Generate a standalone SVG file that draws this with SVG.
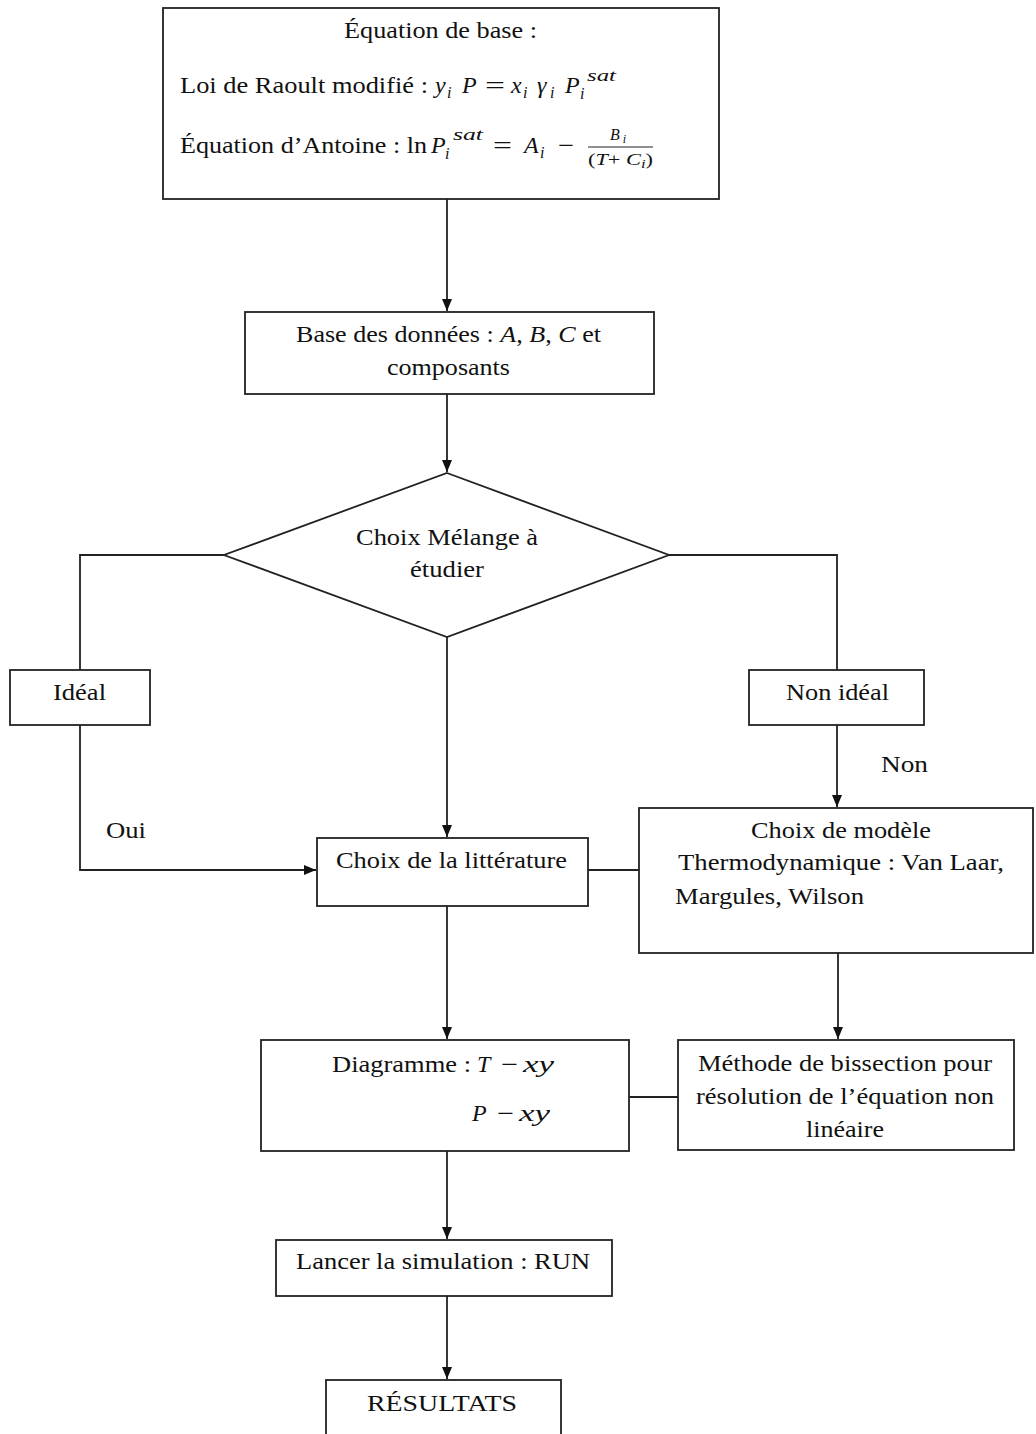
<svg xmlns="http://www.w3.org/2000/svg" width="1036" height="1434" viewBox="0 0 1036 1434">
<defs>
<marker id="ah" viewBox="0 0 12 10" refX="12" refY="5" markerWidth="12" markerHeight="10" markerUnits="userSpaceOnUse" orient="auto">
<path d="M0,0 L12,5 L0,10 Z" fill="#111"/>
</marker>
</defs>
<style>
.box{fill:#fff;stroke:#222;stroke-width:1.8}
.ln{fill:none;stroke:#222;stroke-width:1.8}
text{font-family:"Liberation Serif","Times New Roman",serif;font-size:23px;fill:#111}
.m{font-style:italic;font-size:24px}
.s{font-size:16px;font-style:italic}
.f{font-size:16px}
</style>
<rect width="1036" height="1434" fill="#fff"/>
<g id="connectors">
<path class="ln" d="M447,199 V311" marker-end="url(#ah)"/>
<path class="ln" d="M447,394 V472" marker-end="url(#ah)"/>
<path class="ln" d="M224,555 H80 V670"/>
<path class="ln" d="M80,725 V870 H316" marker-end="url(#ah)"/>
<path class="ln" d="M669,555 H837 V670"/>
<path class="ln" d="M837,725 V807" marker-end="url(#ah)"/>
<path class="ln" d="M447,637 V837" marker-end="url(#ah)"/>
<path class="ln" d="M588,870 H639"/>
<path class="ln" d="M447,906 V1039" marker-end="url(#ah)"/>
<path class="ln" d="M838,953 V1039" marker-end="url(#ah)"/>
<path class="ln" d="M629,1097 H678"/>
<path class="ln" d="M447,1151 V1239" marker-end="url(#ah)"/>
<path class="ln" d="M447,1296 V1379" marker-end="url(#ah)"/>
<text x="106" y="838" textLength="40" lengthAdjust="spacingAndGlyphs">Oui</text>
<text x="881" y="772" textLength="47" lengthAdjust="spacingAndGlyphs">Non</text>
</g>
<g id="n-equation">
<rect class="box" x="163" y="8" width="556" height="191"/>
<text x="344" y="38" textLength="193" lengthAdjust="spacingAndGlyphs">Équation de base :</text>
<text x="180" y="93" textLength="248" lengthAdjust="spacingAndGlyphs">Loi de Raoult modifié :</text>
<text class="m" x="435" y="93">y</text>
<text class="s" x="447" y="98">i</text>
<text class="m" x="462" y="93">P</text>
<text x="485" y="93" textLength="20" lengthAdjust="spacingAndGlyphs">=</text>
<text class="m" x="511" y="93">x</text>
<text class="s" x="523" y="98">i</text>
<text class="m" x="537" y="93">γ</text>
<text class="s" x="550" y="98">i</text>
<text class="m" x="565" y="93">P</text>
<text class="s" x="580" y="99">i</text>
<text class="s" x="587" y="81" textLength="29" lengthAdjust="spacingAndGlyphs">sat</text>
<text x="180" y="153" textLength="247" lengthAdjust="spacingAndGlyphs">Équation d’Antoine : ln</text>
<text class="m" x="431" y="153">P</text>
<text class="s" x="445" y="159">i</text>
<text class="s" x="453" y="140" textLength="30" lengthAdjust="spacingAndGlyphs">sat</text>
<text x="493" y="153" textLength="19" lengthAdjust="spacingAndGlyphs">=</text>
<text class="m" x="524" y="153">A</text>
<text class="s" x="540" y="158">i</text>
<text x="558" y="153" textLength="16" lengthAdjust="spacingAndGlyphs">−</text>
<text class="f" x="610" y="140"><tspan font-style="italic">B</tspan><tspan font-style="italic" font-size="12" dy="3" dx="3">i</tspan></text>
<line class="ln" x1="588" y1="147" x2="653" y2="147" style="stroke-width:1.2"/>
<text class="f" x="588" y="165" textLength="65" lengthAdjust="spacingAndGlyphs">(<tspan font-style="italic">T</tspan>+ <tspan font-style="italic">C</tspan><tspan font-style="italic" font-size="12" dy="3">i</tspan><tspan dy="-3">)</tspan></text>
</g>
<g id="n-base">
<rect class="box" x="245" y="312" width="409" height="82"/>
<text x="296" y="342" textLength="305" lengthAdjust="spacingAndGlyphs">Base des données : <tspan font-style="italic">A</tspan>, <tspan font-style="italic">B</tspan>, <tspan font-style="italic">C</tspan> et</text>
<text x="387" y="375" textLength="123" lengthAdjust="spacingAndGlyphs">composants</text>
</g>
<g id="n-choix-melange">
<polygon class="box" points="447,473 669,555 447,637 224,555"/>
<text x="356" y="545" textLength="182" lengthAdjust="spacingAndGlyphs">Choix Mélange à</text>
<text x="410" y="577" textLength="74" lengthAdjust="spacingAndGlyphs">étudier</text>
</g>
<g id="n-ideal">
<rect class="box" x="10" y="670" width="140" height="55"/>
<text x="53" y="700" textLength="53" lengthAdjust="spacingAndGlyphs">Idéal</text>
</g>
<g id="n-non-ideal">
<rect class="box" x="749" y="670" width="175" height="55"/>
<text x="786" y="700" textLength="103" lengthAdjust="spacingAndGlyphs">Non idéal</text>
</g>
<g id="n-litterature">
<rect class="box" x="317" y="838" width="271" height="68"/>
<text x="336" y="868" textLength="231" lengthAdjust="spacingAndGlyphs">Choix de la littérature</text>
</g>
<g id="n-modele">
<rect class="box" x="639" y="808" width="394" height="145"/>
<text x="751" y="838" textLength="180" lengthAdjust="spacingAndGlyphs">Choix de modèle</text>
<text x="678" y="870" textLength="326" lengthAdjust="spacingAndGlyphs">Thermodynamique : Van Laar,</text>
<text x="675" y="904" textLength="189" lengthAdjust="spacingAndGlyphs">Margules, Wilson</text>
</g>
<g id="n-diagramme">
<rect class="box" x="261" y="1040" width="368" height="111"/>
<text x="332" y="1072" textLength="139" lengthAdjust="spacingAndGlyphs">Diagramme :</text>
<text class="m" x="477" y="1072">T</text>
<text x="501" y="1072" textLength="17" lengthAdjust="spacingAndGlyphs">−</text>
<text class="m" x="523" y="1072" textLength="31" lengthAdjust="spacingAndGlyphs">xy</text>
<text class="m" x="472" y="1121">P</text>
<text x="497" y="1121" textLength="17" lengthAdjust="spacingAndGlyphs">−</text>
<text class="m" x="519" y="1121" textLength="31" lengthAdjust="spacingAndGlyphs">xy</text>
</g>
<g id="n-methode">
<rect class="box" x="678" y="1040" width="336" height="110"/>
<text x="698" y="1071" textLength="294" lengthAdjust="spacingAndGlyphs">Méthode de bissection pour</text>
<text x="696" y="1104" textLength="298" lengthAdjust="spacingAndGlyphs">résolution de l’équation non</text>
<text x="806" y="1137" textLength="78" lengthAdjust="spacingAndGlyphs">linéaire</text>
</g>
<g id="n-lancer">
<rect class="box" x="276" y="1240" width="336" height="56"/>
<text x="296" y="1269" textLength="294" lengthAdjust="spacingAndGlyphs">Lancer la simulation : RUN</text>
</g>
<g id="n-resultats">
<rect class="box" x="326" y="1380" width="235" height="70"/>
<text x="367" y="1411" textLength="150" lengthAdjust="spacingAndGlyphs">RÉSULTATS</text>
</g>
</svg>
